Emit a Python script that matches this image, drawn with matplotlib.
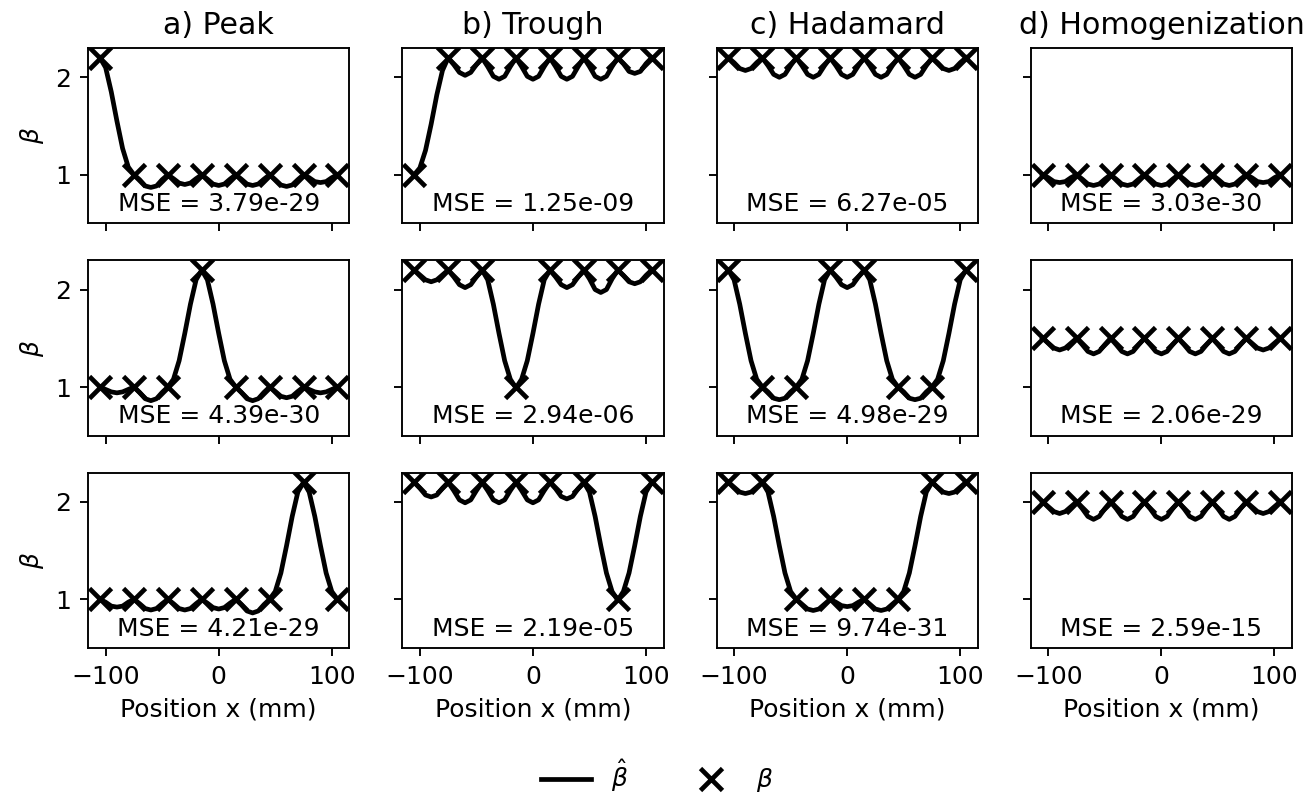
import matplotlib
matplotlib.use('Agg')
import matplotlib.pyplot as plt
import numpy as np
from matplotlib.lines import Line2D

plt.rcParams['font.size'] = 10.6

# sensor positions (mm) and position grid of the reconstructed curve
x_pos = [-105, -75, -45, -15, 15, 45, 75, 105]
x_curve = np.arange(-105, 106, 5)

col_titles = ['a) Peak', 'b) Trough', 'c) Hadamard', 'd) Homogenization']

# true beta at the sensor positions
beta_peak_1 = [2.2, 1, 1, 1, 1, 1, 1, 1]
beta_peak_2 = [1, 1, 1, 2.2, 1, 1, 1, 1]
beta_peak_3 = [1, 1, 1, 1, 1, 1, 2.2, 1]
beta_trough_1 = [1, 2.2, 2.2, 2.2, 2.2, 2.2, 2.2, 2.2]
beta_trough_2 = [2.2, 2.2, 2.2, 1, 2.2, 2.2, 2.2, 2.2]
beta_trough_3 = [2.2, 2.2, 2.2, 2.2, 2.2, 2.2, 1, 2.2]
beta_hada_1 = [2.2, 2.2, 2.2, 2.2, 2.2, 2.2, 2.2, 2.2]
beta_hada_2 = [2.2, 1, 1, 2.2, 2.2, 1, 1, 2.2]
beta_hada_3 = [2.2, 2.2, 1, 1, 1, 1, 2.2, 2.2]
beta_homo_1 = [1, 1, 1, 1, 1, 1, 1, 1]
beta_homo_2 = [1.5, 1.5, 1.5, 1.5, 1.5, 1.5, 1.5, 1.5]
beta_homo_3 = [2, 2, 2, 2, 2, 2, 2, 2]

# reconstructed beta hat, read every 5 mm
hat_peak_1 = [2.2, 2.1, 1.85, 1.55, 1.27, 1.08,
              1.0, 0.95, 0.885, 0.87, 0.885, 0.95,
              1.0, 0.96, 0.915, 0.90, 0.915, 0.96,
              1.0, 0.955, 0.905, 0.89, 0.905, 0.955,
              1.0, 0.955, 0.905, 0.89, 0.905, 0.955,
              1.0, 0.95, 0.895, 0.88, 0.895, 0.95,
              1.0, 0.97, 0.93, 0.92, 0.93, 0.97,
              1.0]
hat_peak_2 = [1.0, 0.975, 0.95, 0.94, 0.95, 0.975,
              1.0, 0.945, 0.88, 0.86, 0.88, 0.945,
              1.0, 1.08, 1.27, 1.55, 1.85, 2.1,
              2.2, 2.1, 1.85, 1.55, 1.27, 1.08,
              1.0, 0.945, 0.88, 0.86, 0.88, 0.945,
              1.0, 0.955, 0.905, 0.89, 0.905, 0.955,
              1.0, 0.975, 0.95, 0.94, 0.95, 0.975,
              1.0]
hat_peak_3 = [1.0, 0.97, 0.93, 0.92, 0.93, 0.97,
              1.0, 0.955, 0.905, 0.89, 0.905, 0.955,
              1.0, 0.955, 0.905, 0.89, 0.905, 0.955,
              1.0, 0.96, 0.915, 0.90, 0.915, 0.96,
              1.0, 0.945, 0.88, 0.86, 0.88, 0.945,
              1.0, 1.08, 1.27, 1.55, 1.85, 2.1,
              2.2, 2.1, 1.85, 1.55, 1.27, 1.08,
              1.0]
hat_trough_1 = [1.0, 1.07, 1.25, 1.52, 1.82, 2.07,
                2.2, 2.13, 2.05, 2.02, 2.05, 2.13,
                2.2, 2.11, 2.01, 1.98, 2.01, 2.11,
                2.2, 2.11, 2.01, 1.98, 2.01, 2.11,
                2.2, 2.11, 2.01, 1.98, 2.01, 2.11,
                2.2, 2.11, 2.01, 1.98, 2.01, 2.11,
                2.2, 2.14, 2.06, 2.04, 2.06, 2.14,
                2.2]
hat_trough_2 = [2.2, 2.15, 2.10, 2.08, 2.10, 2.15,
                2.2, 2.13, 2.05, 2.02, 2.05, 2.13,
                2.2, 2.1, 1.85, 1.55, 1.27, 1.08,
                0.99, 1.08, 1.27, 1.55, 1.85, 2.1,
                2.2, 2.13, 2.05, 2.02, 2.05, 2.13,
                2.2, 2.11, 2.0, 1.97, 2.0, 2.11,
                2.2, 2.145, 2.08, 2.06, 2.08, 2.145,
                2.2]
hat_trough_3 = [2.2, 2.14, 2.07, 2.05, 2.07, 2.14,
                2.2, 2.115, 2.02, 1.99, 2.02, 2.115,
                2.2, 2.115, 2.02, 1.99, 2.02, 2.115,
                2.2, 2.115, 2.02, 1.99, 2.02, 2.115,
                2.2, 2.135, 2.055, 2.03, 2.055, 2.135,
                2.2, 2.1, 1.85, 1.55, 1.27, 1.08,
                0.99, 1.08, 1.27, 1.55, 1.85, 2.1,
                2.2]
hat_hada_1 = [2.2, 2.15, 2.09, 2.07, 2.09, 2.15,
              2.2, 2.12, 2.03, 2.0, 2.03, 2.12,
              2.2, 2.12, 2.03, 2.0, 2.03, 2.12,
              2.2, 2.12, 2.03, 2.0, 2.03, 2.12,
              2.2, 2.12, 2.03, 2.0, 2.03, 2.12,
              2.2, 2.12, 2.03, 2.0, 2.03, 2.12,
              2.2, 2.15, 2.09, 2.07, 2.09, 2.15,
              2.2]
hat_hada_2 = [2.2, 2.1, 1.85, 1.55, 1.27, 1.08,
              1.0, 0.95, 0.885, 0.87, 0.885, 0.95,
              1.0, 1.08, 1.27, 1.55, 1.85, 2.1,
              2.2, 2.13, 2.05, 2.02, 2.05, 2.13,
              2.2, 2.1, 1.85, 1.55, 1.27, 1.08,
              1.0, 0.95, 0.885, 0.87, 0.885, 0.95,
              1.0, 1.08, 1.27, 1.55, 1.85, 2.1,
              2.2]
hat_hada_3 = [2.2, 2.15, 2.10, 2.085, 2.10, 2.15,
              2.2, 2.1, 1.85, 1.55, 1.27, 1.08,
              1.0, 0.95, 0.9, 0.885, 0.9, 0.95,
              1.0, 0.97, 0.935, 0.925, 0.935, 0.97,
              1.0, 0.95, 0.9, 0.885, 0.9, 0.95,
              1.0, 1.08, 1.27, 1.55, 1.85, 2.1,
              2.2, 2.15, 2.10, 2.085, 2.10, 2.15,
              2.2]
hat_homo_1 = [1.0, 0.97, 0.93, 0.92, 0.93, 0.97,
              1.0, 0.955, 0.905, 0.89, 0.905, 0.955,
              1.0, 0.955, 0.905, 0.89, 0.905, 0.955,
              1.0, 0.955, 0.905, 0.89, 0.905, 0.955,
              1.0, 0.955, 0.905, 0.89, 0.905, 0.955,
              1.0, 0.955, 0.905, 0.89, 0.905, 0.955,
              1.0, 0.97, 0.93, 0.92, 0.93, 0.97,
              1.0]
hat_homo_2 = [1.5, 1.45, 1.4, 1.38, 1.4, 1.45,
              1.5, 1.435, 1.365, 1.34, 1.365, 1.435,
              1.5, 1.435, 1.365, 1.34, 1.365, 1.435,
              1.5, 1.435, 1.365, 1.34, 1.365, 1.435,
              1.5, 1.435, 1.365, 1.34, 1.365, 1.435,
              1.5, 1.435, 1.365, 1.34, 1.365, 1.435,
              1.5, 1.45, 1.4, 1.38, 1.4, 1.45,
              1.5]
hat_homo_3 = [2.0, 1.95, 1.9, 1.88, 1.9, 1.95,
              2.0, 1.93, 1.85, 1.82, 1.85, 1.93,
              2.0, 1.93, 1.85, 1.82, 1.85, 1.93,
              2.0, 1.93, 1.85, 1.82, 1.85, 1.93,
              2.0, 1.93, 1.85, 1.82, 1.85, 1.93,
              2.0, 1.93, 1.85, 1.82, 1.85, 1.93,
              2.0, 1.95, 1.9, 1.88, 1.9, 1.95,
              2.0]

mse_peak = ['3.79e-29', '4.39e-30', '4.21e-29']
mse_trough = ['1.25e-09', '2.94e-06', '2.19e-05']
mse_hada = ['6.27e-05', '4.98e-29', '9.74e-31']
mse_homo = ['3.03e-30', '2.06e-29', '2.59e-15']

betas = [[beta_peak_1, beta_trough_1, beta_hada_1, beta_homo_1],
         [beta_peak_2, beta_trough_2, beta_hada_2, beta_homo_2],
         [beta_peak_3, beta_trough_3, beta_hada_3, beta_homo_3]]
hats = [[hat_peak_1, hat_trough_1, hat_hada_1, hat_homo_1],
        [hat_peak_2, hat_trough_2, hat_hada_2, hat_homo_2],
        [hat_peak_3, hat_trough_3, hat_hada_3, hat_homo_3]]
mses = [mse_peak, mse_trough, mse_hada, mse_homo]

figure, axes = plt.subplots(3, 4, sharex=True, sharey=True,
                            figsize=(1315 / 170, 801 / 170), dpi=170)
figure.subplots_adjust(left=0.067, right=0.9825, top=0.94, bottom=0.191,
                       wspace=0.203, hspace=0.21)

for r in range(3):
    for c in range(4):
        ax = axes[r, c]
        ax.plot(x_curve, hats[r][c], '-', color='black', linewidth=2.0)
        ax.plot(x_pos, betas[r][c], 'x', color='black', markersize=9.5, markeredgewidth=2.0)
        ax.text(0.5, 0.11, 'MSE = ' + mses[c][r], transform=ax.transAxes,
                ha='center', va='center', fontsize=10.6)
        ax.set_ylim(0.5, 2.3)
        ax.set_yticks([1, 2])
        ax.set_xticks([-100, 0, 100])
        if r == 0:
            ax.set_title(col_titles[c], fontsize=12.7)
        if r == 2:
            ax.set_xlabel('Position x (mm)')
        if c == 0:
            ax.set_ylabel(r'$\beta$')

handles = [Line2D([], [], color='black', linewidth=2.0),
           Line2D([], [], color='black', marker='x', linestyle='none',
                  markersize=9.5, markeredgewidth=2.0)]
figure.legend(handles, [r'$\hat{\beta}$', r'$\beta$'], loc='lower center',
              ncol=2, frameon=False, bbox_to_anchor=(0.5, -0.02), columnspacing=2.3)

plt.savefig('out.png', dpi=170)
